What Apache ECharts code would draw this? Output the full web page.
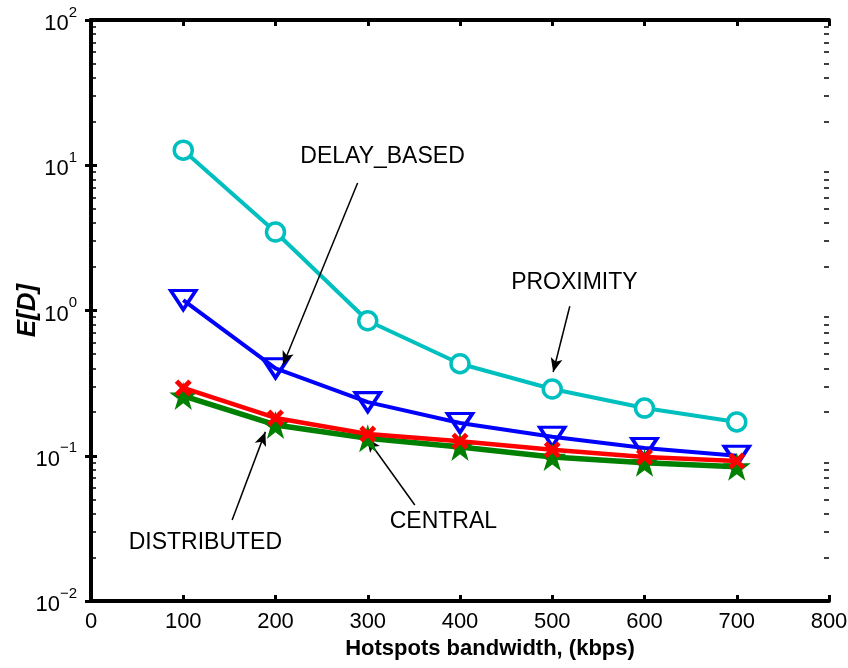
<!DOCTYPE html>
<html>
<head>
<meta charset="utf-8">
<script src="https://cdn.jsdelivr.net/npm/echarts@6/dist/echarts.min.js"></script>
<style>
  html, body { margin: 0; padding: 0; background: #fff; }
  #chart { width: 848px; height: 668px; }
</style>
</head>
<body>
<div id="chart"></div>
<script>
// bandwidth (kbps)
const bandwidth = [100, 200, 300, 400, 500, 600, 700]
// E[D] per scheme
const proximity = [12.7, 3.47, 0.85, 0.43, 0.288, 0.213, 0.171]
const delayBased = [1.18, 0.40, 0.234, 0.168, 0.135, 0.113, 0.100]
const central = [0.293, 0.182, 0.141, 0.126, 0.110, 0.098, 0.092]
const distributed = [0.258, 0.163, 0.132, 0.115, 0.098, 0.0895, 0.084]

// log minor tick positions (2..9 in each decade)
const minorTicks = [0.01, 0.1, 1, 10].flatMap((d) => [2, 3, 4, 5, 6, 7, 8, 9].map((k) => +(k * d).toPrecision(3)))

// annotations: [text, textX, textY, arrowFromX, arrowFromY, arrowToX, arrowToY]
const notes = [
  ['DELAY_BASED', 316, 11.4, 289, 7.55, 208, 0.42],
  ['PROXIMITY', 524, 1.55, 519, 1.07, 501, 0.377],
  ['DISTRIBUTED', 124, 0.0251, 153, 0.0361, 189, 0.146],
  ['CENTRAL', 382, 0.035, 351, 0.0458, 299, 0.132]
]

const font = 'Liberation Sans, Arial, sans-serif'
const xPath = 'path://M2,0 L5,3 L8,0 L10,2 L7,5 L10,8 L8,10 L5,7 L2,10 L0,8 L3,5 L0,2 Z'
const starPath = 'path://M50,0 L61.8,35.4 L100,35.4 L69.1,57.3 L80.9,93.5 L50,71.5 L19.1,93.5 L30.9,57.3 L0,35.4 L38.2,35.4 Z'

const toPairs = (ys) => bandwidth.map((x, i) => [x, ys[i]])

const chart = echarts.init(document.getElementById('chart'))

const supLabel = (v) => {
  const e = Math.round(Math.log10(v))
  return '{b|10}{e|' + String(e).replace('-', '\u2212') + '}'
}

const arrowLines = notes.map((n) => [
  { coord: [n[3], n[4]], symbol: 'none' },
  { coord: [n[5], n[6]], symbol: 'arrow' }
])

const frame = { show: true, lineStyle: { color: '#000', width: 4 } }
const majorTick = { inside: true, length: 6, lineStyle: { color: '#000', width: 3 } }

// extra log axis that only draws the minor ticks
const minorAxis = (pos) => ({
  type: 'log',
  logBase: 10,
  min: 0.01,
  max: 100,
  position: pos,
  axisLine: { show: false },
  axisTick: { show: true, inside: true, length: 5, customValues: minorTicks, lineStyle: { color: '#000', width: 1.5 } },
  axisLabel: { show: false },
  splitLine: { show: false }
})

chart.setOption({
  animation: false,
  grid: { left: 91, right: 19, top: 20, bottom: 67, outerBoundsMode: 'none', containLabel: false },
  xAxis: [{
    type: 'value',
    min: 0,
    max: 800,
    interval: 100,
    name: 'Hotspots bandwidth, (kbps)',
    nameLocation: 'middle',
    nameGap: 37,
    nameMoveOverlap: false,
    nameTextStyle: { fontFamily: font, fontSize: 22, fontWeight: 'bold', color: '#000', padding: [0, 0, 0, 60] },
    axisLine: frame,
    axisTick: majorTick,
    axisLabel: { fontFamily: font, fontSize: 22, color: '#000', margin: 10 },
    splitLine: { show: false }
  }, {
    type: 'value',
    position: 'top',
    min: 0,
    max: 800,
    interval: 100,
    axisLine: frame,
    axisTick: majorTick,
    axisLabel: { show: false },
    splitLine: { show: false }
  }],
  yAxis: [{
    type: 'log',
    logBase: 10,
    min: 0.01,
    max: 100,
    name: 'E[D]',
    nameLocation: 'middle',
    nameGap: 50,
    nameMoveOverlap: false,
    nameTextStyle: { fontFamily: font, fontSize: 26, fontWeight: 'bold', fontStyle: 'italic', color: '#000' },
    axisLine: frame,
    axisTick: majorTick,
    axisLabel: {
      margin: 14,
      formatter: supLabel,
      rich: {
        b: { fontFamily: font, fontSize: 22, color: '#000', lineHeight: 30, verticalAlign: 'bottom' },
        e: { fontFamily: font, fontSize: 15, color: '#000', lineHeight: 30, verticalAlign: 'top' }
      }
    },
    splitLine: { show: false }
  }, {
    type: 'log',
    logBase: 10,
    min: 0.01,
    max: 100,
    position: 'right',
    axisLine: frame,
    axisTick: majorTick,
    axisLabel: { show: false },
    splitLine: { show: false }
  }, minorAxis('left'), minorAxis('right')],
  series: [
    {
      name: 'PROXIMITY',
      type: 'line',
      data: toPairs(proximity),
      symbol: 'circle',
      symbolSize: 18,
      lineStyle: { color: '#00bfbf', width: 4 },
      itemStyle: { color: '#fff', borderColor: '#00bfbf', borderWidth: 3.5 },
      z: 3
    },
    {
      name: 'DELAY_BASED',
      type: 'line',
      data: toPairs(delayBased),
      symbol: 'triangle',
      symbolRotate: 180,
      symbolSize: [25, 19],
      lineStyle: { color: '#0000ff', width: 4 },
      itemStyle: { color: 'rgba(255,255,255,0)', borderColor: '#0000ff', borderWidth: 3.5 },
      z: 4
    },
    {
      name: 'DISTRIBUTED',
      type: 'line',
      data: toPairs(distributed),
      symbol: starPath,
      symbolSize: 28,
      lineStyle: { color: '#008000', width: 5.5 },
      itemStyle: { color: '#008000' },
      z: 5
    },
    {
      name: 'CENTRAL',
      type: 'line',
      data: toPairs(central),
      symbol: xPath,
      symbolSize: 17,
      lineStyle: { color: '#ff0000', width: 4.5 },
      itemStyle: { color: '#ff0000' },
      z: 6,
      markLine: {
        silent: true,
        symbolSize: [9, 14],
        lineStyle: { color: '#000', width: 1.5, type: 'solid' },
        label: { show: false },
        data: arrowLines
      }
    }
  ]
})

// annotation texts placed at data positions
chart.setOption({
  graphic: notes.map((n) => {
    const p = chart.convertToPixel({ gridIndex: 0 }, [n[1], n[2]])
    return {
      type: 'text',
      x: p[0],
      y: p[1],
      style: {
        text: n[0],
        fontFamily: font,
        fontSize: 23,
        fill: '#000',
        textAlign: 'center',
        textVerticalAlign: 'middle'
      }
    }
  })
})
</script>
</body>
</html>
